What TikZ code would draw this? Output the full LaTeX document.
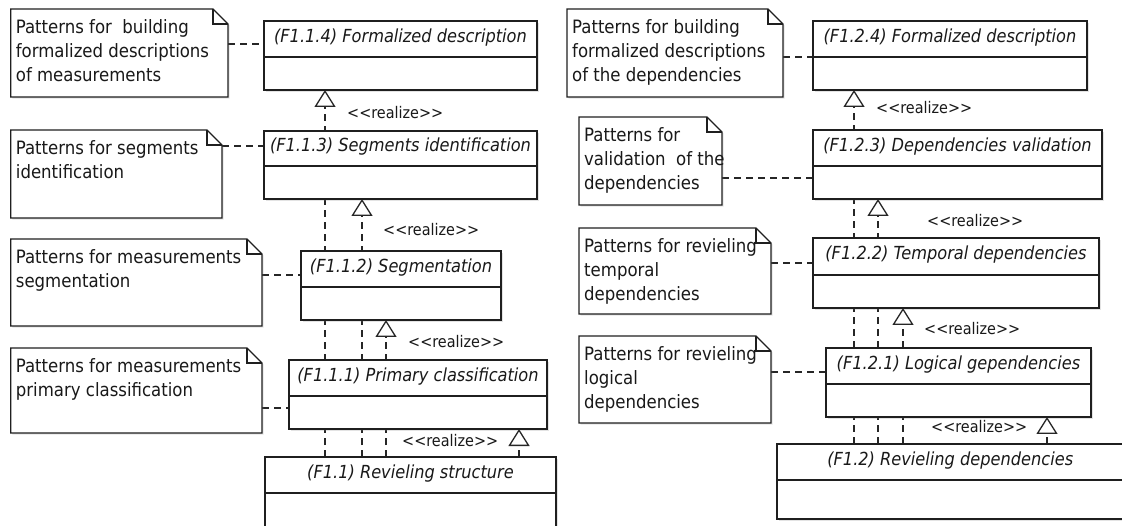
\documentclass[tikz,border=0pt]{standalone}
\usepackage{fontspec}
\setmainfont{DejaVu Sans Condensed}
\usetikzlibrary{arrows.meta,calc,backgrounds,shadows}
\pgfdeclarelayer{lines}
\pgfsetlayers{background,lines,main}

\newcommand\umlnote[6]{%
  \node[notearea, minimum width=#4, minimum height=#5, anchor=north west] (#1) at (#2,#3) {};
  \draw[ink, fill=white, nshadow] (#1.north west) -- ($(#1.north east)+(-15,0)$) -- ($(#1.north east)+(0,15)$) -- (#1.south east) -- (#1.south west) -- cycle;
  \draw[ink] ($(#1.north east)+(-15,0)$) -- ($(#1.north east)+(-15,15)$) -- ($(#1.north east)+(0,15)$);
  \node[ntext, anchor=north west] (#1x) at ($(#1.north west)+(5,10)$) {#6};
}
\newcommand\umlclass[7]{%
  \node[cls, minimum width=#4, minimum height=#5+#6, anchor=north west] (#1) at (#2,#3) {};
  \node[ttl] (#1t) at ($(#1.north)+(0,#5/2-1.5)$) {#7};
  \draw[ink] ($(#1.north west)+(0,#5)$) -- ($(#1.north east)+(0,#5)$);
}
\newcommand\notelink[3]{% note, offset from top, class
  \coordinate (#1p) at ($(#1.north east)+(0,#2)$);
  \draw[nl] (#1p) -- (#1p -| #3.west);
}
\newcommand\realizelink[3]{% source, target, x
  \coordinate (#2r) at (#3,0);
  \draw[rl] (#2r |- #1.north) -- (#2r |- #2.south);
}
\newcommand\rlz{{<}{<}realize{>}{>}}

\begin{document}
\begin{tikzpicture}[x=1pt,y=-1pt,
  ink/.style={draw=black!88, line width=1.2pt},
  nshadow/.style={drop shadow={shadow xshift=1.6pt, shadow yshift=-1.6pt, opacity=0.22}},
  cls/.style={ink, fill=white, rectangle, inner sep=0pt, outer sep=0pt, nshadow},
  notearea/.style={rectangle, inner sep=0pt, outer sep=0pt},
  ntext/.style={font=\fontsize{18.4}{24}\selectfont, align=left, inner sep=0pt, text=black!90},
  ttl/.style={font=\fontsize{18.0}{22}\selectfont\itshape, inner sep=0pt, text=black!90},
  lbl/.style={font=\fontsize{16.0}{20}\selectfont, inner sep=0pt, anchor=west, text=black!90},
  nl/.style={draw=black!85, line width=1.2pt, dash pattern=on 7pt off 5pt},
  rl/.style={draw=black!85, line width=1.2pt, dash pattern=on 7pt off 5pt,
     -{Triangle[open, length=17pt, width=21pt, line width=1.3pt]}}
]
\begin{pgfonlayer}{background}
  \fill[white] (0,0) rectangle (1122,526);
\end{pgfonlayer}
\useasboundingbox (0,0) rectangle (1122,526);

% ---------- left column ----------
\umlclass{c114}{264}{21}{273}{36}{33}{(F1.1.4) Formalized description}
\umlclass{c113}{264}{131}{273}{35}{33}{(F1.1.3) Segments identification}
\umlclass{c112}{301}{251}{200}{36}{33}{(F1.1.2) Segmentation}
\umlclass{c111}{289}{360}{258}{36}{33}{(F1.1.1) Primary classification}
\umlclass{c11}{265}{457}{291}{36}{67.5}{(F1.1) Revieling structure}

\umlnote{n1}{10.7}{9}{217.3}{88}{Patterns for\ \ building\\formalized descriptions\\of measurements}
\umlnote{n2}{10.7}{130}{211.3}{88}{Patterns for segments\\identification}
\umlnote{n3}{10.7}{239}{251.3}{87}{Patterns for measurements\\segmentation}
\umlnote{n4}{10.7}{348}{251.3}{85}{Patterns for measurements\\primary classification}

% ---------- right column ----------
\umlclass{c124}{813}{21}{274}{36}{33}{(F1.2.4) Formalized description}
\umlclass{c123}{813}{130}{289}{36}{33}{(F1.2.3) Dependencies validation}
\umlclass{c122}{813}{238}{286}{37}{33}{(F1.2.2) Temporal dependencies}
\umlclass{c121}{826}{348}{265}{36}{33}{(F1.2.1) Logical gependencies}
\umlclass{c12}{777}{444}{346.5}{36}{39}{(F1.2) Revieling dependencies}

\umlnote{r1}{567}{9}{216}{88}{Patterns for building\\formalized descriptions\\of the dependencies}
\umlnote{r2}{579}{117}{143}{88}{Patterns for\\validation\ \ of the\\dependencies}
\umlnote{r3}{579}{228}{192}{86}{Patterns for revieling\\temporal\\dependencies}
\umlnote{r4}{579}{336}{192}{87}{Patterns for revieling\\logical\\dependencies}

\begin{pgfonlayer}{lines}
  \notelink{n1}{35}{c114}
  \notelink{n2}{16}{c113}
  \notelink{n3}{36}{c112}
  \notelink{n4}{60}{c111}
  \notelink{r1}{48}{c124}
  \notelink{r2}{61}{c123}
  \notelink{r3}{35}{c122}
  \notelink{r4}{36}{c121}
  \realizelink{c11}{c114}{325}
  \realizelink{c11}{c113}{362}
  \realizelink{c11}{c112}{386}
  \realizelink{c11}{c111}{519}
  \realizelink{c12}{c124}{854}
  \realizelink{c12}{c123}{878}
  \realizelink{c12}{c122}{903}
  \realizelink{c12}{c121}{1047}
\end{pgfonlayer}

% realize labels
\node[lbl] (l114) at (347,113) {\rlz};
\node[lbl] (l113) at (383,230) {\rlz};
\node[lbl] (l112) at (408,342) {\rlz};
\node[lbl] (l111) at (402,441) {\rlz};
\node[lbl] (l124) at (876,108) {\rlz};
\node[lbl] (l123) at (927,221) {\rlz};
\node[lbl] (l122) at (924,329) {\rlz};
\node[lbl] (l121) at (931,427) {\rlz};
\end{tikzpicture}
\end{document}
